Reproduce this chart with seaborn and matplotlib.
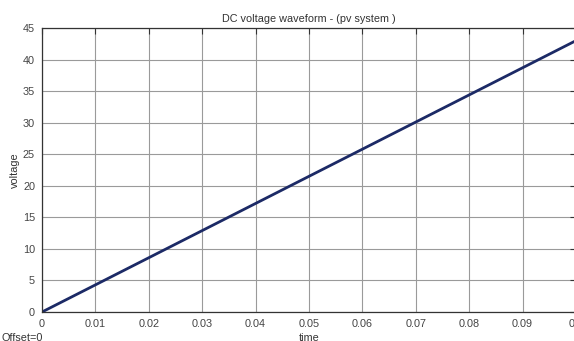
import matplotlib
matplotlib.use("Agg")
import matplotlib.pyplot as plt
import seaborn as sns
import pandas as pd

time = [0.0, 0.01, 0.02, 0.03, 0.04, 0.05, 0.06, 0.07, 0.08, 0.09, 0.1]
voltage = [0.0, 4.3, 8.6, 12.9, 17.2, 21.5, 25.8, 30.1, 34.4, 38.7, 43.0]
xticks = [0, 0.01, 0.02, 0.03, 0.04, 0.05, 0.06, 0.07, 0.08, 0.09, 0.1]
xticklabels = ["0", "0.01", "0.02", "0.03", "0.04", "0.05", "0.06", "0.07", "0.08", "0.09", "0.1"]
yticks = [0, 5, 10, 15, 20, 25, 30, 35, 40, 45]

sns.set_style("white")
plt.rcParams['font.family'] = ['Liberation Sans', 'DejaVu Sans']

df = pd.DataFrame({"time": time, "voltage": voltage})

fig = plt.figure(figsize=(5.74, 3.41), dpi=100)
fig.patch.set_facecolor("white")
W, H = 574, 341
left, right, top, bottom = 42, 576, 28, 312
ax = fig.add_axes([left / W, 1 - bottom / H, (right - left) / W, (bottom - top) / H])

sns.lineplot(data=df, x="time", y="voltage", ax=ax, color="#1c2a66", linewidth=2.0)

ax.set_xlim(0, 0.1)
ax.set_ylim(0, 45)
ax.set_xticks(xticks)
ax.set_xticklabels(xticklabels)
ax.set_yticks(yticks)
ax.grid(True, color="#9a9a9a", linewidth=0.8)
ax.tick_params(direction="in", length=4, width=0.8, colors="#333333",
               labelcolor="#444444", labelsize=7.8, top=True, right=True, pad=5)
for s in ax.spines.values():
    s.set_color("#333333")
    s.set_linewidth(0.9)

ax.set_title("DC voltage waveform - (pv system )", fontsize=7.8, color="#333333", pad=4)
ax.set_xlabel("time", fontsize=7.8, color="#333333", labelpad=3)
ax.set_ylabel("voltage", fontsize=7.8, color="#333333", labelpad=2)
fig.text(2 / W, 1 - 338 / H, "Offset=0", fontsize=7.8, color="#333333", va="center")

fig.savefig("out.png", dpi=100)
